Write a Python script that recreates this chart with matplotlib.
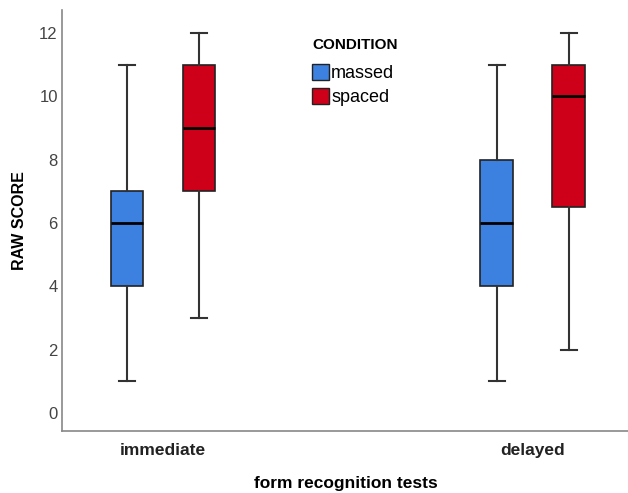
import matplotlib.pyplot as plt
from matplotlib.patches import Patch

plt.rcParams['font.family'] = ['Liberation Sans', 'DejaVu Sans']

tests = ['immediate', 'delayed']
conditions = ['massed', 'spaced']
colors = ['#3C80E0', '#CE0019']

# five-number summaries: min, q1, median, q3, max
mins = {'massed': [1, 1], 'spaced': [3, 2]}
q1s = {'massed': [4, 4], 'spaced': [7, 6.5]}
medians = {'massed': [6, 6], 'spaced': [9, 10]}
q3s = {'massed': [7, 8], 'spaced': [11, 11]}
maxs = {'massed': [11, 11], 'spaced': [12, 12]}

fig = plt.figure(figsize=(6.28, 4.93), dpi=100)
ax = fig.add_axes([0.0987, 0.126, 0.9013, 0.854])

offsets = [-0.0973, 0.0973]
for c, cond in enumerate(conditions):
    stats = []
    for i in range(len(tests)):
        stats.append({'whislo': mins[cond][i], 'q1': q1s[cond][i], 'med': medians[cond][i],
                      'q3': q3s[cond][i], 'whishi': maxs[cond][i], 'fliers': []})
    pos = [i + offsets[c] for i in range(len(tests))]
    ax.bxp(stats, positions=pos, widths=0.089, patch_artist=True, showfliers=False,
           boxprops=dict(facecolor=colors[c], edgecolor='#222222', linewidth=1.2),
           medianprops=dict(color='black', linewidth=2),
           whiskerprops=dict(color='#333333', linewidth=1.5),
           capprops=dict(color='#333333', linewidth=1.5))

ax.set_xlim(-0.273, 1.257)
ax.set_ylim(-0.57, 12.73)
ax.set_xticks(range(len(tests)))
ax.set_xticklabels(tests, fontsize=12.5, fontweight='bold', color='#222222')
ax.set_yticks(range(0, 13, 2))
ax.tick_params(axis='y', length=0, labelsize=12, labelcolor='#444444', pad=3)
ax.tick_params(axis='x', length=0, pad=9)
for s in ['top', 'right']:
    ax.spines[s].set_visible(False)
for s in ['left', 'bottom']:
    ax.spines[s].set_color('#888888')
    ax.spines[s].set_linewidth(1.2)

ax.set_ylabel('RAW SCORE', fontsize=11.5, fontweight='bold', labelpad=9)
fig.text(0.55, 0.005, 'form recognition tests', fontsize=12.5, fontweight='bold',
         ha='center', va='bottom')

fig.text(0.497, 1 - 45 / 493, 'CONDITION', fontsize=11, fontweight='bold',
         ha='left', va='center')
handles = [Patch(facecolor=colors[k], edgecolor='#222222', label=conditions[k]) for k in range(2)]
leg = fig.legend(handles=handles, loc='upper left',
                 bbox_to_anchor=(0.497, 1 - 64 / 493), frameon=False, fontsize=13,
                 handlelength=0.95, handleheight=1.0, handletextpad=0.1,
                 labelspacing=0.3, borderaxespad=0, borderpad=0)

fig.savefig('out.png', dpi=100)
